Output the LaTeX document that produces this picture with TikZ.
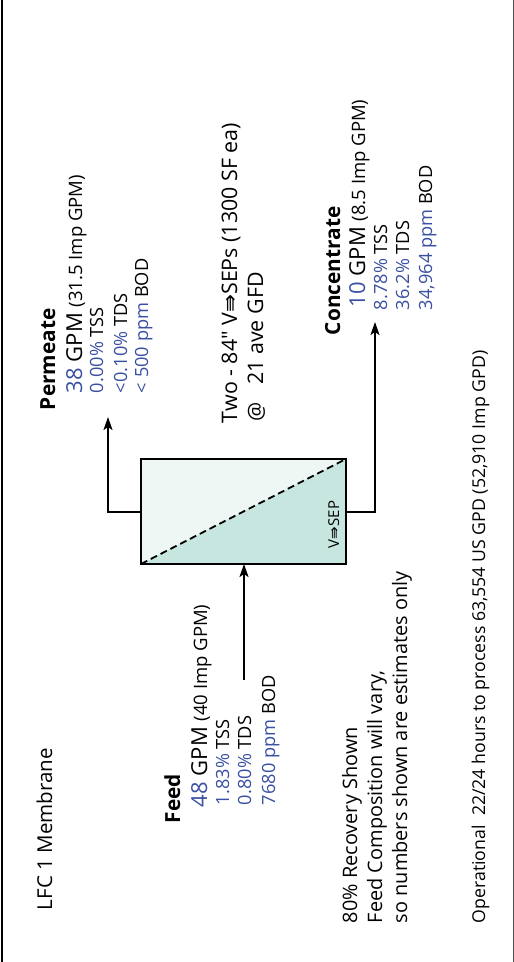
\documentclass[tikz,border=0pt]{standalone}
\usepackage{fontspec}
\setmainfont{Open Sans}[Ligatures=TeXOff]
\newfontfamily\arrowfont{DejaVu Sans}
\usetikzlibrary{arrows.meta}
\definecolor{valblue}{RGB}{58,80,162}
\definecolor{permfill}{RGB}{239,247,245}
\definecolor{concfill}{RGB}{199,230,224}
\newcommand{\tarr}{{\arrowfont ⇛}}
\newcommand{\val}[1]{\textcolor{valblue}{#1}}
\newcommand{\imp}[1]{{\fontsize{18.5}{20}\selectfont #1}}
\tikzset{
  lbl/.style={rotate=90, anchor=base west, inner sep=0pt, outer sep=0pt},
  bigtxt/.style={lbl, font=\fontsize{19.9}{24}\selectfont},
  desctxt/.style={lbl, font=\fontsize{21.4}{24}\selectfont},
  headtxt/.style={lbl, font=\fontsize{20.8}{24}\selectfont\bfseries},
  flowtxt/.style={lbl, font=\fontsize{22}{26}\selectfont},
  stattxt/.style={lbl, font=\fontsize{18.2}{22}\selectfont},
  flowline/.style={line width=2pt, -{Stealth[length=13pt,width=9pt,inset=3pt]}},
}
\begin{document}
\begin{tikzpicture}[x=1pt,y=1pt]
\useasboundingbox (0,0) rectangle (514,-962);
% frame
\draw[line width=2pt] (1.5,0) -- (1.5,-962);
\draw[line width=1pt, black!70] (513,0) -- (513,-962);

% separator unit
\node[minimum width=205pt, minimum height=105pt, inner sep=0pt, outer sep=0pt] (sep) at (243.5,-511.5) {};
\fill[permfill] (sep.north west) -- (sep.north east) -- (sep.south west) -- cycle;
\fill[concfill] (sep.south west) -- (sep.north east) -- (sep.south east) -- cycle;
\draw[line width=1.8pt, dash pattern=on 7pt off 4pt] (sep.south west) -- (sep.north east);
\draw[line width=2.5pt] (sep.south west) rectangle (sep.north east);
\node[lbl, font=\fontsize{15}{17}\selectfont] (seplbl) at (339,-548) {V\tarr SEP};

% flows
\coordinate (feedin) at (244,-680);
\coordinate (permtip) at (108,-417);
\coordinate (conctip) at (375,-322);
\draw[flowline] (feedin) -- (feedin |- sep.south);
\draw[flowline] (sep.west) -| (permtip);
\draw[flowline] (sep.east) -| (conctip);

% title
\node[lbl, font=\fontsize{20.5}{24}\selectfont] (title) at (52,-910) {LFC 1 Membrane};

% feed
\node[headtxt] (feedhd) at (180,-823) {Feed};
\node[flowtxt] (feedq) at (207,-807) {\val{48} GPM \imp{(40 Imp GPM)}};
\node[stattxt] (feedtss) at (229,-805) {\val{1.83\%} TSS};
\node[stattxt] (feedtds) at (251,-805) {\val{0.80\%} TDS};
\node[stattxt] (feedbod) at (275,-805) {\val{7680 ppm} BOD};

% permeate
\node[headtxt] (permhd) at (55,-410) {Permeate};
\node[flowtxt] (permq) at (82,-393) {\val{38} GPM \imp{(31.5 Imp GPM)}};
\node[stattxt] (permtss) at (103,-393) {\val{0.00\%} TSS};
\node[stattxt] (permtds) at (127,-393) {\val{<0.10\%} TDS};
\node[stattxt] (permbod) at (148,-393) {\val{< 500 ppm} BOD};

% unit description
\node[desctxt] (units) at (237,-423) {Two - 84" V\tarr SEPs (1300 SF ea)};
\node[desctxt] (flux) at (263,-421) {@\hspace{17pt}21 ave GFD};

% concentrate
\node[headtxt] (conchd) at (340,-335) {Concentrate};
\node[flowtxt] (concq) at (365,-307) {\val{10} GPM \imp{(8.5 Imp GPM)}};
\node[stattxt] (conctss) at (387,-310) {\val{8.78\%} TSS};
\node[stattxt] (conctds) at (409,-310) {\val{36.2\%} TDS};
\node[stattxt] (concbod) at (432,-310) {\val{34,964 ppm} BOD};

% notes
\node[bigtxt] (note1) at (357,-923) {80\% Recovery Shown};
\node[bigtxt] (note2) at (382,-923) {Feed Composition will vary,};
\node[bigtxt] (note3) at (407,-923) {so numbers shown are estimates only};
\node[lbl, font=\fontsize{17.7}{22}\selectfont] (oper) at (485,-923) {Operational\ \ 22/24 hours to process 63,554 US GPD (52,910 Imp GPD)};
\end{tikzpicture}
\end{document}
